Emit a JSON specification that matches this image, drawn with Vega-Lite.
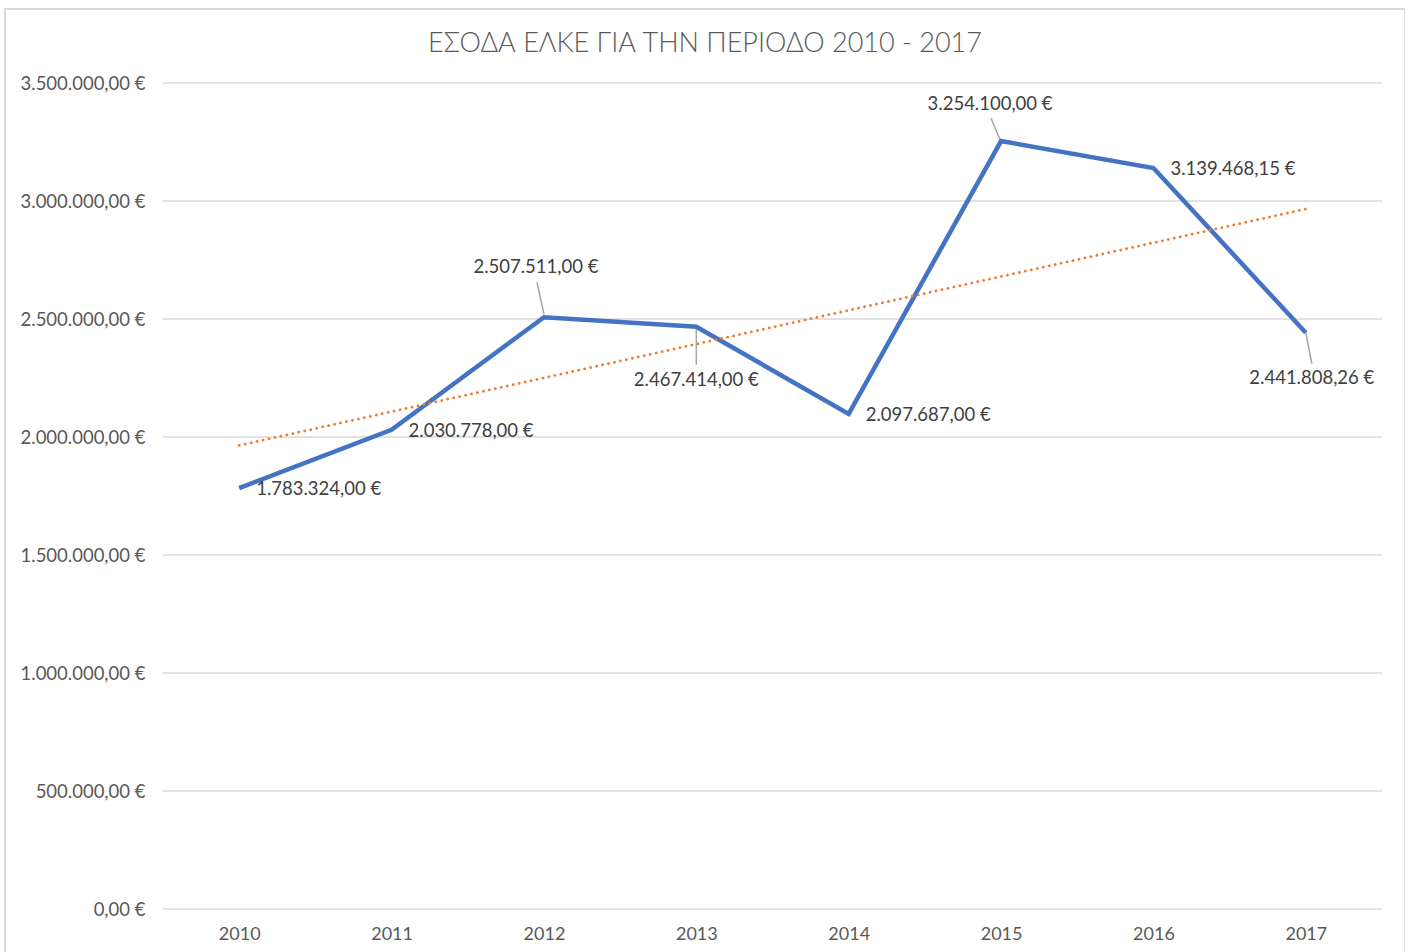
{
  "$schema": "https://vega.github.io/schema/vega-lite/v6.json",
  "width": 1400,
  "height": 960,
  "autosize": {"type": "none"},
  "padding": {"left": 5, "top": 9, "right": 0, "bottom": 0},
  "background": "white",
  "config": {
    "locale": {"number": {"decimal": ",", "thousands": ".", "grouping": [3], "currency": ["", " €"]}},
    "view": {"stroke": "#d9d9d9", "strokeWidth": 2},
    "font": "Lato"
  },
  "title": {
    "text": "ΕΣΟΔΑ ΕΛΚΕ ΓΙΑ ΤΗΝ ΠΕΡΙΟΔΟ 2010 - 2017",
    "font": "Lato",
    "fontSize": 27,
    "fontWeight": 300,
    "color": "#595959",
    "anchor": "middle",
    "baseline": "middle",
    "offset": 0,
    "dy": 62
  },
  "data": {
    "values": [
      {"year": 2010, "revenue": 1783324},
      {"year": 2011, "revenue": 2030778},
      {"year": 2012, "revenue": 2507511},
      {"year": 2013, "revenue": 2467414},
      {"year": 2014, "revenue": 2097687},
      {"year": 2015, "revenue": 3254100},
      {"year": 2016, "revenue": 3139468.15},
      {"year": 2017, "revenue": 2441808.26}
    ]
  },
  "layer": [
    {
      "data": {"values": [
        {"revenue": 0}, {"revenue": 500000}, {"revenue": 1000000}, {"revenue": 1500000},
        {"revenue": 2000000}, {"revenue": 2500000}, {"revenue": 3000000}, {"revenue": 3500000}
      ]},
      "mark": {"type": "rule", "color": "#d9d9d9", "strokeWidth": 1.5},
      "encoding": {
        "x": {"datum": 2009.5, "type": "quantitative", "scale": {"domain": [2009.5, 2017.5], "range": [158, 1377], "nice": false, "zero": false}},
        "x2": {"datum": 2017.5},
        "y": {"field": "revenue", "type": "quantitative", "scale": {"domain": [0, 3500000], "range": [900, 74], "nice": false, "zero": false}}
      }
    },
    {
      "transform": [{"filter": {"field": "year", "equal": 2012}}],
      "mark": {"type": "rule", "color": "#a6a6a6", "strokeWidth": 1.5, "yOffset": -3, "x2Offset": -7, "y2Offset": -35},
      "encoding": {
        "x": {"field": "year", "type": "quantitative"},
        "x2": {"field": "year"},
        "y": {"field": "revenue", "type": "quantitative"},
        "y2": {"field": "revenue"}
      }
    },
    {
      "transform": [{"filter": {"field": "year", "equal": 2013}}],
      "mark": {"type": "rule", "color": "#a6a6a6", "strokeWidth": 1.5, "yOffset": 1, "y2Offset": 38},
      "encoding": {
        "x": {"field": "year", "type": "quantitative"},
        "x2": {"field": "year"},
        "y": {"field": "revenue", "type": "quantitative"},
        "y2": {"field": "revenue"}
      }
    },
    {
      "transform": [{"filter": {"field": "year", "equal": 2015}}],
      "mark": {"type": "rule", "color": "#a6a6a6", "strokeWidth": 1.5, "xOffset": -1, "yOffset": -1, "x2Offset": -10, "y2Offset": -23},
      "encoding": {
        "x": {"field": "year", "type": "quantitative"},
        "x2": {"field": "year"},
        "y": {"field": "revenue", "type": "quantitative"},
        "y2": {"field": "revenue"}
      }
    },
    {
      "transform": [{"filter": {"field": "year", "equal": 2017}}],
      "mark": {"type": "rule", "color": "#a6a6a6", "strokeWidth": 1.5, "x2Offset": 6, "y2Offset": 31},
      "encoding": {
        "x": {"field": "year", "type": "quantitative"},
        "x2": {"field": "year"},
        "y": {"field": "revenue", "type": "quantitative"},
        "y2": {"field": "revenue"}
      }
    },
    {
      "mark": {"type": "line", "color": "#4472C4", "strokeWidth": 4.5, "strokeJoin": "miter"},
      "encoding": {
        "x": {
          "field": "year", "type": "quantitative",
          "scale": {"domain": [2009.5, 2017.5], "range": [158, 1377], "nice": false, "zero": false},
          "axis": {
            "title": null, "orient": "bottom", "offset": -60, "domain": false, "ticks": false, "grid": false,
            "values": [2010, 2011, 2012, 2013, 2014, 2015, 2016, 2017], "format": "d",
            "labelFont": "Lato", "labelFontSize": 18, "labelColor": "#595959", "labelPadding": 16, "labelFlush": false
          }
        },
        "y": {
          "field": "revenue", "type": "quantitative",
          "scale": {"domain": [0, 3500000], "range": [900, 74], "nice": false, "zero": false},
          "axis": {
            "title": null, "orient": "left", "offset": -158, "domain": false, "ticks": false, "grid": false,
            "values": [0, 500000, 1000000, 1500000, 2000000, 2500000, 3000000, 3500000], "format": "$,.2f",
            "labelFont": "Lato", "labelFontSize": 18.5, "labelColor": "#595959", "labelPadding": 18
          }
        }
      }
    },
    {
      "transform": [{"regression": "revenue", "on": "year"}],
      "mark": {"type": "line", "color": "#ED7D31", "strokeWidth": 2.8, "strokeDash": [0.1, 6], "strokeCap": "round"},
      "encoding": {
        "x": {"field": "year", "type": "quantitative"},
        "y": {"field": "revenue", "type": "quantitative"}
      }
    },
    {
      "transform": [{"filter": {"field": "year", "oneOf": [2010, 2011, 2014, 2016]}}],
      "mark": {"type": "text", "align": "left", "baseline": "middle", "dx": 17, "dy": 1, "fontSize": 18.5, "font": "Lato", "color": "#404040"},
      "encoding": {
        "x": {"field": "year", "type": "quantitative"},
        "y": {"field": "revenue", "type": "quantitative"},
        "text": {"field": "revenue", "type": "quantitative", "format": "$,.2f"}
      }
    },
    {
      "transform": [{"filter": {"field": "year", "equal": 2012}}],
      "mark": {"type": "text", "align": "center", "baseline": "middle", "dx": -8, "dy": -50, "fontSize": 18.5, "font": "Lato", "color": "#404040"},
      "encoding": {
        "x": {"field": "year", "type": "quantitative"},
        "y": {"field": "revenue", "type": "quantitative"},
        "text": {"field": "revenue", "type": "quantitative", "format": "$,.2f"}
      }
    },
    {
      "transform": [{"filter": {"field": "year", "equal": 2013}}],
      "mark": {"type": "text", "align": "center", "baseline": "middle", "dx": 0, "dy": 53, "fontSize": 18.5, "font": "Lato", "color": "#404040"},
      "encoding": {
        "x": {"field": "year", "type": "quantitative"},
        "y": {"field": "revenue", "type": "quantitative"},
        "text": {"field": "revenue", "type": "quantitative", "format": "$,.2f"}
      }
    },
    {
      "transform": [{"filter": {"field": "year", "equal": 2015}}],
      "mark": {"type": "text", "align": "center", "baseline": "middle", "dx": -11, "dy": -37, "fontSize": 18.5, "font": "Lato", "color": "#404040"},
      "encoding": {
        "x": {"field": "year", "type": "quantitative"},
        "y": {"field": "revenue", "type": "quantitative"},
        "text": {"field": "revenue", "type": "quantitative", "format": "$,.2f"}
      }
    },
    {
      "transform": [{"filter": {"field": "year", "equal": 2017}}],
      "mark": {"type": "text", "align": "center", "baseline": "middle", "dx": 6, "dy": 45, "fontSize": 18.5, "font": "Lato", "color": "#404040"},
      "encoding": {
        "x": {"field": "year", "type": "quantitative"},
        "y": {"field": "revenue", "type": "quantitative"},
        "text": {"field": "revenue", "type": "quantitative", "format": "$,.2f"}
      }
    }
  ]
}
